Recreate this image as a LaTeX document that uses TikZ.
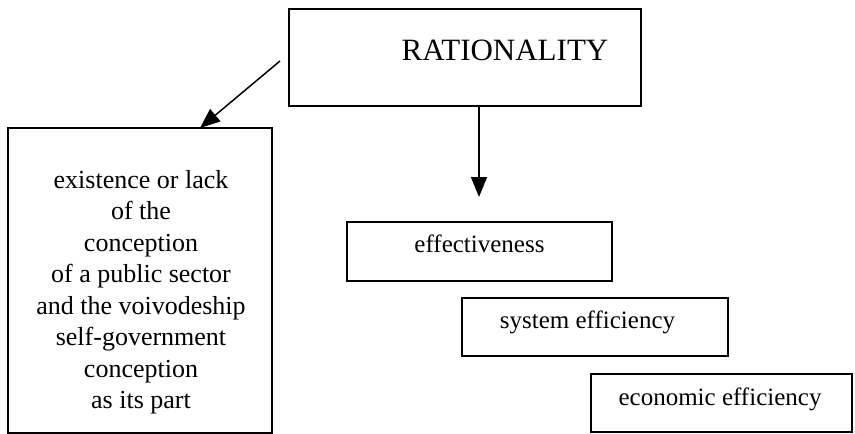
\documentclass[tikz,border=0pt]{standalone}
\usepackage{fontspec}
\setmainfont{Liberation Serif}
\usetikzlibrary{arrows.meta}
\begin{document}
\begin{tikzpicture}[x=1pt,y=-1pt,
  boxnode/.style={draw=black, line width=1.6pt, rectangle, inner sep=0pt},
  txt/.style={font=\fontsize{25}{31.5}\selectfont, inner sep=0pt},
  lefttxt/.style={font=\fontsize{26}{31.5}\selectfont, inner sep=0pt},
  bigtxt/.style={font=\fontsize{31}{36}\selectfont, inner sep=0pt},
  arr/.style={line width=1.5pt, -{Triangle[length=20pt,width=16pt]}}]
\useasboundingbox (0,0) rectangle (855,434);
% boxes
\node[boxnode, minimum width=352pt, minimum height=97pt] (rat) at (465,57.5) {};
\node[boxnode, minimum width=264pt, minimum height=305pt] (left) at (140,280.5) {};
\node[boxnode, minimum width=265pt, minimum height=59pt] (eff) at (479.5,251.5) {};
\node[boxnode, minimum width=266pt, minimum height=58pt] (sys) at (595,327) {};
\node[boxnode, minimum width=261pt, minimum height=58pt] (eco) at (721.5,403) {};
% texts
\node[bigtxt, anchor=base] (ratt) at (505,60) {RATIONALITY};
\node[lefttxt, align=center] (leftt) at (141,292) {existence or lack\\of the\\conception\\of a public sector\\and the voivodeship\\self-government\\conception\\as its part};
\node[txt, anchor=base] (efft) at (479.5,252) {effectiveness};
\node[txt, anchor=base] (syst) at (587.5,328) {system efficiency};
\node[txt, anchor=base] (ecot) at (720,405) {economic efficiency};
% arrows
\coordinate (a1s) at (280,61);
\coordinate (a1e) at (200,128);
\coordinate (a2s) at (479,107);
\coordinate (a2e) at (479,197);
\draw[arr] (a1s) -- (a1e);
\draw[arr] (a2s) -- (a2e);
\end{tikzpicture}
\end{document}
